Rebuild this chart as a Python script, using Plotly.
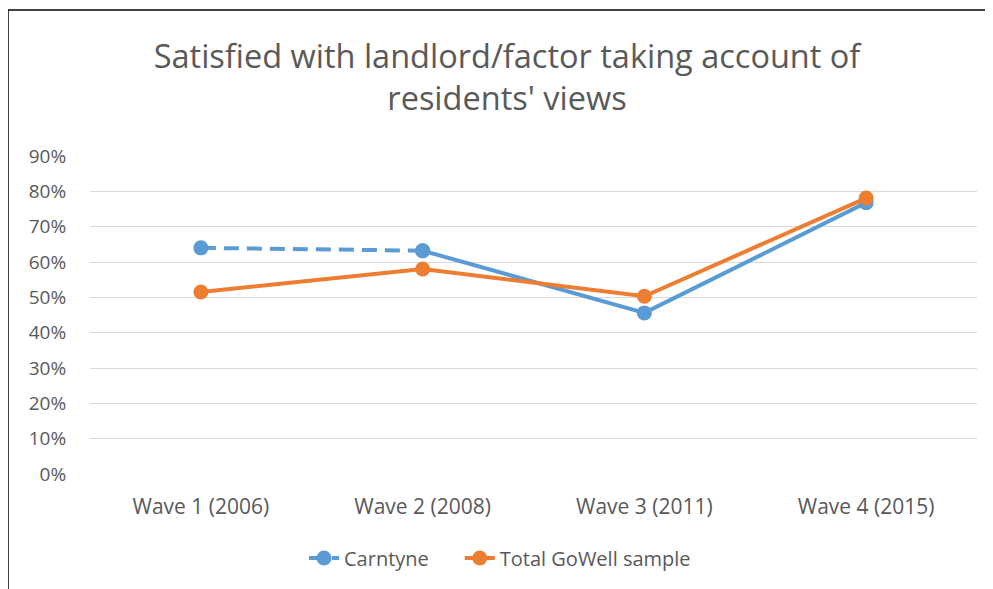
"""Line chart: satisfaction with landlord/factor taking account of residents' views."""

import plotly.graph_objects as go

waves = ["Wave 1 (2006)", "Wave 2 (2008)", "Wave 3 (2011)", "Wave 4 (2015)"]
carntyne = [0.64, 0.632, 0.456, 0.768]
total_gowell = [0.515, 0.58, 0.503, 0.781]
y_ticks = [0, 0.1, 0.2, 0.3, 0.4, 0.5, 0.6, 0.7, 0.8, 0.9]

BLUE = "#5B9BD5"
ORANGE = "#ED7D31"
TEXT = "#595959"
FONT = "Open Sans"

# page body adds an 8px offset, so the figure is 8px smaller than the window
W, H = 985, 581
L, R, T, B = 82, 16, 148, 115
plot_w, plot_h = W - L - R, H - T - B

fig = go.Figure()
# Carntyne: dashed between waves 1 and 2, solid afterwards
fig.add_trace(go.Scatter(
    x=waves[:2], y=carntyne[:2], name="Carntyne" + "\u00a0" * 5, mode="lines+markers",
    line=dict(color=BLUE, width=4, dash="15px,8px"), marker=dict(size=15, color=BLUE),
))
fig.add_trace(go.Scatter(
    x=waves[1:], y=carntyne[1:], name="Carntyne", mode="lines+markers", showlegend=False,
    line=dict(color=BLUE, width=4), marker=dict(size=15, color=BLUE),
))
fig.add_trace(go.Scatter(
    x=waves, y=total_gowell, name="Total GoWell sample", mode="lines+markers",
    line=dict(color=ORANGE, width=4), marker=dict(size=15, color=ORANGE),
))

# chart frame (left and top edges only)
fx = -L / plot_w
fy = (plot_h + T - 2) / plot_h
fig.add_shape(type="line", xref="paper", yref="paper", x0=fx, x1=1.05, y0=fy, y1=fy,
              line=dict(color="black", width=1.5))
fig.add_shape(type="line", xref="paper", yref="paper", x0=fx, x1=fx, y0=fy, y1=-0.5,
              line=dict(color="black", width=1.5))

fig.update_layout(
    width=W, height=H, plot_bgcolor="white", paper_bgcolor="white",
    margin=dict(l=L, r=R, t=T, b=B),
    font=dict(family=FONT, color=TEXT, size=19),
    title=dict(text="Satisfied with landlord/factor taking account of<br>residents' views",
               x=499 / W, xanchor="center", xref="container", y=1 - 60 / H, yanchor="middle",
               font=dict(size=32.5, color=TEXT, family=FONT)),
    legend=dict(orientation="h", x=(492 - L) / plot_w, xanchor="center",
                y=(466 - 550) / plot_h, yanchor="middle",
                font=dict(size=20, color=TEXT)),
    showlegend=True,
)
fig.update_xaxes(range=[-0.5, 3.5], showgrid=False, showline=False,
                 ticks="outside", ticklen=14, tickcolor="rgba(0,0,0,0)",
                 tickfont=dict(size=21, color=TEXT))
fig.update_yaxes(range=[0, 0.9], tickvals=y_ticks, tickformat=".0%", showgrid=True,
                 gridcolor="#D9D9D9", gridwidth=1, zeroline=False, showline=False,
                 ticks="outside", ticklen=19, tickcolor="rgba(0,0,0,0)",
                 tickfont=dict(size=19, color=TEXT))

fig.write_html("out.html")
